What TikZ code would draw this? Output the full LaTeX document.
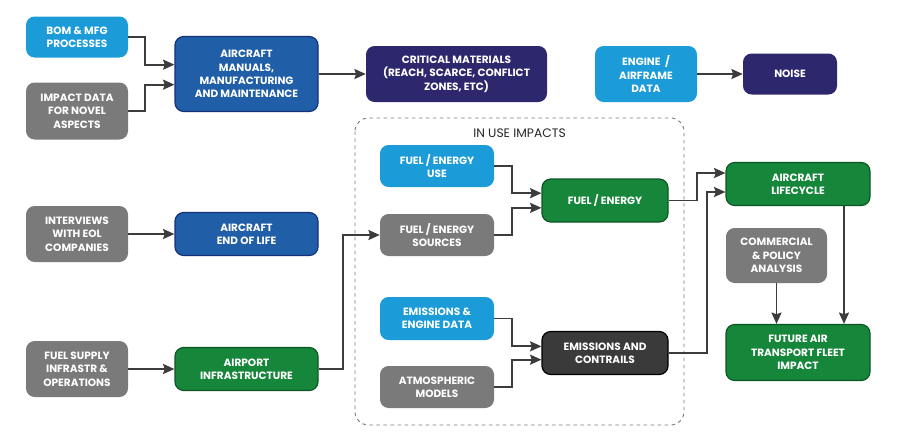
\documentclass[tikz,border=0pt]{standalone}
\usepackage{fontspec}
\setmainfont{Poppins}
\usepackage{tikz}
\usetikzlibrary{arrows.meta}

\definecolor{skyblue}{RGB}{27,155,216}
\definecolor{boxgray}{RGB}{122,122,122}
\definecolor{midblue}{RGB}{32,94,167}
\definecolor{midblueline}{RGB}{20,48,118}
\definecolor{nightpurple}{RGB}{45,39,110}
\definecolor{leafgreen}{RGB}{22,135,58}
\definecolor{leafline}{RGB}{12,86,36}
\definecolor{coal}{RGB}{58,58,58}
\definecolor{arrowgray}{RGB}{60,60,60}

\newcommand{\boxfont}{\fontsize{9}{11.4}\selectfont\bfseries}

\begin{document}
\begin{tikzpicture}[x=0.03cm,y=-0.03cm,
  box/.style={rounded corners=2.6mm, align=center, text=white, inner sep=1pt, font=\boxfont},
  sized/.style 2 args={minimum width=#1*0.03cm, minimum height=#2*0.03cm},
  lightbox/.style={box, fill=skyblue},
  graybox/.style={box, fill=boxgray},
  bluebox/.style={box, fill=midblue, draw=midblueline, line width=1pt},
  purplebox/.style={box, fill=nightpurple},
  greenbox/.style={box, fill=leafgreen, draw=leafline, line width=1pt},
  coalbox/.style={box, fill=coal, draw=black, line width=1pt},
  arr/.style={-{Stealth[length=3.4mm,width=3mm,inset=0.5mm]}, line width=1.6pt, draw=arrowgray}]

  \useasboundingbox (0,0) rectangle (898,440);

  % in use frame
  \draw[dashed, boxgray, line width=0.8pt, rounded corners=4mm] (355,118) rectangle (684,425);
  \node[font=\fontsize{10.5}{12}\selectfont, text=black!85] (inuse) at (519.5,133) {IN USE IMPACTS};

  % left column
  \node[lightbox, sized={102}{41}] (bom) at (77,37) {BOM \& MFG\\PROCESSES};
  \node[graybox, sized={102}{57}] (impact) at (77,111) {IMPACT DATA\\FOR NOVEL\\ASPECTS};
  \node[graybox, sized={102}{56}] (interviews) at (77,234) {INTERVIEWS\\WITH EOL\\COMPANIES};
  \node[graybox, sized={102}{56}] (fuelsupply) at (77,369) {FUEL SUPPLY\\INFRASTR \&\\OPERATIONS};

  % second column
  \node[bluebox, sized={143}{75}] (manuals) at (246.5,74) {AIRCRAFT\\MANUALS,\\MANUFACTURING\\AND MAINTENANCE};
  \node[bluebox, sized={143}{43}] (eol) at (246.5,234) {AIRCRAFT\\END OF LIFE};
  \node[greenbox, sized={143}{43}] (airport) at (246.5,369) {AIRPORT\\INFRASTRUCTURE};

  % top row
  \node[purplebox, sized={181}{56}] (critical) at (456.5,74) {CRITICAL MATERIALS\\(REACH, SCARCE, CONFLICT\\ZONES, ETC)};
  \node[lightbox, sized={102}{56}] (engine) at (646,74) {ENGINE~~/\\AIRFRAME\\DATA};
  \node[purplebox, sized={94}{41}] (noise) at (790,74) {NOISE};

  % in use impacts
  \node[lightbox, sized={114}{42}] (feuse) at (437,166) {FUEL / ENERGY\\USE};
  \node[graybox, sized={114}{42}] (fesrc) at (437,235) {FUEL / ENERGY\\SOURCES};
  \node[greenbox, sized={126}{43}] (fe) at (605,200.5) {FUEL / ENERGY};
  \node[lightbox, sized={114}{43}] (emeng) at (437,318.5) {EMISSIONS \&\\ENGINE DATA};
  \node[graybox, sized={114}{42}] (atmos) at (437,387) {ATMOSPHERIC\\MODELS};
  \node[coalbox, sized={126}{43}] (emcon) at (605,353) {EMISSIONS AND\\CONTRAILS};

  % right column
  \node[greenbox, sized={144}{43}] (lifecycle) at (798,184) {AIRCRAFT\\LIFECYCLE};
  \node[graybox, sized={101}{55}] (commercial) at (776.5,255.5) {COMMERCIAL\\\& POLICY\\ANALYSIS};
  \node[greenbox, sized={144}{56}] (future) at (798,352.5) {FUTURE AIR\\TRANSPORT FLEET\\IMPACT};

  % connectors
  \draw[arr] (bom.east) -- ++(17,0) |- ([yshift=2.8mm]manuals.west);
  \draw[arr] (impact.east) -- ++(17,0) |- ([yshift=-3.2mm]manuals.west);
  \draw[arr] (manuals.east) -- (critical.west);
  \draw[arr] (engine.east) -- (noise.west);
  \draw[arr] (interviews.east) -- (eol.west);
  \draw[arr] (fuelsupply.east) -- (airport.west);
  \draw[arr] (airport.east) -- ++(24,0) |- (fesrc.west);
  \draw[arr] (feuse.east) -- ++(18,0) |- ([yshift=2.2mm]fe.west);
  \draw[arr] (fesrc.east) -- ++(18,0) |- ([yshift=-2.2mm]fe.west);
  \draw[arr] (emeng.east) -- ++(18,0) |- ([yshift=2mm]emcon.west);
  \draw[arr] (atmos.east) -- ++(18,0) |- ([yshift=-2mm]emcon.west);
  \draw[arr] (fe.east) -- ++(28,0) |- ([yshift=3.3mm]lifecycle.west);
  \draw[arr] (emcon.east) -- ++(38,0) |- ([yshift=-2.4mm]lifecycle.west);
  \draw[arr] (commercial.south) -- (commercial.south |- future.north);
  \draw[arr] ([xshift=13.8mm]lifecycle.south) -- ([xshift=13.8mm]future.north);

\end{tikzpicture}
\end{document}
